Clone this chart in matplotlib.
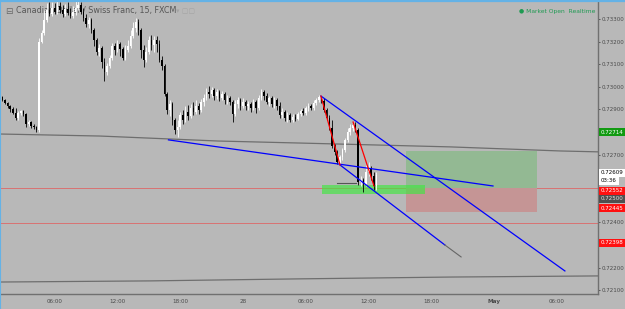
import matplotlib
matplotlib.use("Agg")
import matplotlib.pyplot as plt
from matplotlib.patches import Rectangle
from matplotlib.lines import Line2D
import numpy as np

# ---------------- data (prices in 1e-5 units, 15-minute bars, bar 0 = 28 Apr 00:00) -------------
bar_start = -93
opens = [
    72942, 72955, 72942, 72928, 72915, 72902, 72884, 72862, 72884, 72893,
    72880, 72835, 72844, 72827, 72822, 72809, 73198, 73238, 73296, 73340,
    73322, 73349, 73331, 73358, 73340, 73322, 73344, 73327, 73313, 73331,
    73349, 73362, 73331, 73305, 73278, 73296, 73251, 73207, 73154, 73172,
    73110, 73065, 73092, 73127, 73181, 73163, 73189, 73167, 73127, 73163,
    73181, 73225, 73260, 73287, 73251, 73163, 73119, 73154, 73207, 73185,
    73207, 73189, 73119, 73092, 72968, 72897, 72924, 72853, 72809, 72822,
    72875, 72853, 72888, 72871, 72906, 72888, 72915, 72897, 72933, 72950,
    72977, 72968, 72986, 72959, 72977, 72950, 72968, 72942, 72950, 72933,
    72880, 72924, 72942, 72915, 72933, 72915, 72924, 72906, 72933, 72906,
    72950, 72977, 72959, 72933, 72950, 72924, 72942, 72915, 72875, 72888,
    72862, 72875, 72853, 72866, 72858, 72880, 72893, 72884, 72906, 72915,
    72906, 72928, 72942, 72955, 72937, 72897, 72862, 72818, 72738, 72712,
    72667, 72689, 72720, 72765, 72800, 72818, 72831, 72809, 72579, 72588,
    72570, 72623, 72641, 72605, 72561,
]
closes = [
    72955, 72942, 72928, 72915, 72902, 72884, 72862, 72884, 72893, 72880,
    72835, 72844, 72827, 72822, 72809, 73198, 73238, 73296, 73340, 73322,
    73349, 73331, 73358, 73340, 73322, 73344, 73327, 73313, 73331, 73349,
    73362, 73331, 73305, 73278, 73296, 73251, 73207, 73154, 73172, 73110,
    73065, 73092, 73127, 73181, 73163, 73189, 73167, 73127, 73163, 73181,
    73225, 73260, 73287, 73251, 73163, 73119, 73154, 73207, 73185, 73207,
    73189, 73119, 73092, 72968, 72897, 72924, 72853, 72809, 72822, 72875,
    72853, 72888, 72871, 72906, 72888, 72915, 72897, 72933, 72950, 72977,
    72968, 72986, 72959, 72977, 72950, 72968, 72942, 72950, 72933, 72880,
    72924, 72942, 72915, 72933, 72915, 72924, 72906, 72933, 72906, 72950,
    72977, 72959, 72933, 72950, 72924, 72942, 72915, 72875, 72888, 72862,
    72875, 72853, 72866, 72858, 72880, 72893, 72884, 72906, 72915, 72906,
    72928, 72942, 72955, 72937, 72897, 72862, 72818, 72738, 72712, 72667,
    72689, 72720, 72765, 72800, 72818, 72831, 72809, 72579, 72588, 72570,
    72623, 72641, 72605, 72561, 72609,
]
highs = [
    72964, 72959, 72946, 72933, 72919, 72911, 72906, 72893, 72897, 72897,
    72884, 72853, 72849, 72835, 72827, 73216, 73251, 73340, 73371, 73375,
    73375, 73371, 73384, 73375, 73362, 73366, 73375, 73349, 73358, 73384,
    73384, 73375, 73349, 73322, 73309, 73305, 73260, 73216, 73189, 73181,
    73127, 73105, 73141, 73194, 73194, 73207, 73198, 73176, 73185, 73207,
    73251, 73287, 73305, 73300, 73260, 73185, 73176, 73225, 73229, 73225,
    73225, 73207, 73136, 73101, 72977, 72942, 72933, 72862, 72853, 72888,
    72897, 72915, 72919, 72924, 72933, 72942, 72928, 72946, 72968, 72995,
    73004, 72999, 72995, 72990, 72986, 72981, 72977, 72964, 72959, 72942,
    72942, 72955, 72950, 72950, 72942, 72937, 72933, 72946, 72942, 72964,
    72990, 72986, 72973, 72959, 72959, 72955, 72950, 72933, 72906, 72897,
    72888, 72884, 72880, 72880, 72888, 72902, 72906, 72915, 72928, 72924,
    72942, 72950, 72964, 72959, 72950, 72906, 72875, 72853, 72747, 72720,
    72698, 72729, 72773, 72818, 72835, 72844, 72844, 72818, 72605, 72596,
    72654, 72667, 72650, 72623, 72623,
]
lows = [
    72937, 72937, 72924, 72906, 72888, 72880, 72853, 72853, 72875, 72871,
    72822, 72827, 72818, 72813, 72800, 72800, 73194, 73229, 73287, 73313,
    73313, 73322, 73322, 73327, 73309, 73313, 73318, 73305, 73305, 73318,
    73340, 73322, 73291, 73265, 73260, 73238, 73181, 73141, 73136, 73083,
    73026, 73052, 73083, 73119, 73141, 73154, 73136, 73119, 73119, 73154,
    73172, 73216, 73243, 73229, 73127, 73088, 73110, 73145, 73163, 73154,
    73154, 73110, 73074, 72959, 72880, 72871, 72831, 72791, 72778, 72813,
    72835, 72844, 72853, 72862, 72875, 72880, 72880, 72888, 72915, 72942,
    72950, 72955, 72942, 72946, 72937, 72942, 72924, 72924, 72919, 72844,
    72871, 72906, 72897, 72906, 72897, 72897, 72888, 72897, 72884, 72897,
    72942, 72942, 72924, 72915, 72911, 72906, 72897, 72862, 72862, 72849,
    72844, 72844, 72844, 72849, 72853, 72871, 72875, 72875, 72893, 72897,
    72897, 72919, 72933, 72928, 72888, 72853, 72809, 72729, 72698, 72658,
    72654, 72676, 72712, 72756, 72787, 72804, 72800, 72565, 72561, 72534,
    72561, 72605, 72588, 72543, 72543,
]

# drawings (time in bars, price in 1e-5)
trend_low_t = [-28.5, 95.6]
trend_low_p = [72765, 72561]
chan_up_t = [29.8, 123.1]
chan_up_p = [72959, 72185]
chan_dn_t = [37.1, 77.2]
chan_dn_p = [72654, 72300]
chan_ext_t = [77.2, 83.4]
chan_ext_p = [72300, 72247]
zig1_t = [29.8, 37.1]
zig1_p = [72959, 72654]
zig2_t = [42.1, 50.1]
zig2_p = [72844, 72561]
short_line_t = [36.0, 43.3]
short_line_p = [72574, 72574]
hline_p = [72552, 72398]
zone_t = [30.2, 69.6]
zone_p = [72526, 72566]
pos_t = [62.3, 112.4]
pos_entry, pos_target, pos_stop = 72552, 72714, 72445
ma1_t = [-93, -54.7, -9.6, 21.8, 79.2, 121.2, 135.8]
ma1_p = [72791, 72782, 72760, 72751, 72734, 72716, 72712]
ma2_t = [-93, -35.5, 21.8, 79.2, 135.8]
ma2_p = [72136, 72141, 72150, 72158, 72163]

x_ticks = [-72, -48, -24, 0, 24, 48, 72, 96, 120]
x_labels = ["06:00", "12:00", "18:00", "28", "06:00", "12:00", "18:00", "May", "06:00"]
y_ticks = [72100, 72200, 72400, 72700, 72900, 73000, 73100, 73200, 73300]

label_texts = ["0.72714", "0.72609", "03:36", "0.72552", "0.72500", "0.72445", "0.72398"]
label_pix_y = [132, 173, 181, 191, 199, 208, 243]
label_bg = ["#119a11", "#ffffff", "#ffffff", "#ff1010", "#4f4f4f", "#ff1010", "#ff1010"]
label_fg = ["white", "black", "black", "white", "#e0e0e0", "white", "white"]

# ---------------- figure ----------------
BG = "#b8b8b8"
W, H = 625, 309
fig = plt.figure(figsize=(W / 100, H / 100), dpi=100)
fig.patch.set_facecolor(BG)
ax = fig.add_axes([0, 15 / H, 598 / W, 294 / H])
ax.set_facecolor(BG)
ax.set_xlim(-92.93, 135.76)
ax.set_ylim(72083, 73384)

for s in ["top", "left"]:
    ax.spines[s].set_visible(False)
for s in ["right", "bottom"]:
    ax.spines[s].set_color("#707070")
    ax.spines[s].set_linewidth(1.0)

ax.yaxis.tick_right()
ax.set_yticks(y_ticks)
ax.set_yticklabels([f"{v / 1e5:.5f}" for v in y_ticks])
ax.set_xticks(x_ticks)
ax.set_xticklabels(x_labels)
ax.tick_params(axis="y", labelsize=4.0, colors="#4a4a4a", length=1.5, width=0.6, pad=0.8)
ax.tick_params(axis="x", labelsize=4.1, colors="#4a4a4a", length=0, pad=3.5)
for t in ax.get_xticklabels():
    if t.get_text() == "May":
        t.set_fontweight("bold")

# lines behind candles
ax.plot(ma1_t, ma1_p, color="#6e6e6e", lw=0.9, zorder=2)
ax.plot(ma2_t, ma2_p, color="#6e6e6e", lw=0.9, zorder=2)
for p in hline_p:
    ax.axhline(p, color="#d97272", lw=0.7, zorder=2)

# position tool & zone
ax.add_patch(Rectangle((pos_t[0], pos_entry), pos_t[1] - pos_t[0], pos_target - pos_entry,
                       facecolor="#93b993", edgecolor="none", zorder=2.5))
ax.add_patch(Rectangle((pos_t[0], pos_stop), pos_t[1] - pos_t[0], pos_entry - pos_stop,
                       facecolor="#c59595", edgecolor="none", zorder=2.5))
ax.add_patch(Rectangle((zone_t[0], zone_p[0]), zone_t[1] - zone_t[0], zone_p[1] - zone_p[0],
                       facecolor="#3fe83f", alpha=0.65, edgecolor="none", zorder=3))

# candles
O = np.array(opens, float); C = np.array(closes, float)
Hh = np.array(highs, float); L = np.array(lows, float)
xs = np.arange(bar_start, bar_start + len(closes))
up = C >= O
cols = np.where(up, "#ffffff", "#000000")
ax.vlines(xs, L, Hh, colors=cols, lw=0.6, zorder=4)
body = np.maximum(np.abs(C - O), 3.5)
ax.bar(xs, body, bottom=np.minimum(O, C), width=0.6, color=cols, linewidth=0, zorder=5)

# drawings on top
ax.plot(short_line_t, short_line_p, color="#555555", lw=0.8, zorder=6)
ax.plot(trend_low_t, trend_low_p, color="#0000ff", lw=0.9, zorder=6)
ax.plot(chan_up_t, chan_up_p, color="#0000ff", lw=0.9, zorder=6)
ax.plot(chan_dn_t, chan_dn_p, color="#0000ff", lw=0.9, zorder=6)
ax.plot(chan_ext_t, chan_ext_p, color="#666666", lw=0.8, zorder=6)
ax.plot(zig1_t, zig1_p, color="#ff0000", lw=0.9, zorder=7)
ax.plot(zig2_t, zig2_p, color="#ff0000", lw=0.9, zorder=7)

# title & status (candles drawn over the title)
ax.text(5 / 598, 1 - 11 / 294, "\u229f", transform=ax.transAxes, fontsize=6.5,
        color="#6a6a6a", va="center", ha="left", zorder=1)
ax.text(16 / 598, 1 - 11 / 294, "Canadian Dollar / Swiss Franc, 15, FXCM", transform=ax.transAxes,
        fontsize=5.75, color="#565656", va="center", ha="left", zorder=1)
ax.text(176 / 598, 1 - 11 / 294, "\u25be \u25a2\u25a2", transform=ax.transAxes, fontsize=5.0,
        color="#a4a4a4", va="center", ha="left", zorder=1)
ax.text(595 / 598, 1 - 11 / 294, "\u25cf Market Open  Realtime", transform=ax.transAxes,
        fontsize=4.3, color="#1e9a52", va="center", ha="right", zorder=8)

# price labels on the right scale
for txt, py, bg, fg in zip(label_texts, label_pix_y, label_bg, label_fg):
    fig.text(601 / W, 1 - py / H, txt, fontsize=4.0, color=fg, va="center", ha="left",
             bbox=dict(boxstyle="square,pad=0.3", facecolor=bg, edgecolor="none"), zorder=10)

# window frame
fig.add_artist(Line2D([0, 1], [1 - 0.5 / H, 1 - 0.5 / H], transform=fig.transFigure,
                      color="#64b2e6", lw=1.6))
fig.add_artist(Line2D([0.4 / W, 0.4 / W], [0, 1], transform=fig.transFigure,
                      color="#64b2e6", lw=0.8))

fig.savefig("out.png", dpi=100, facecolor=BG)
